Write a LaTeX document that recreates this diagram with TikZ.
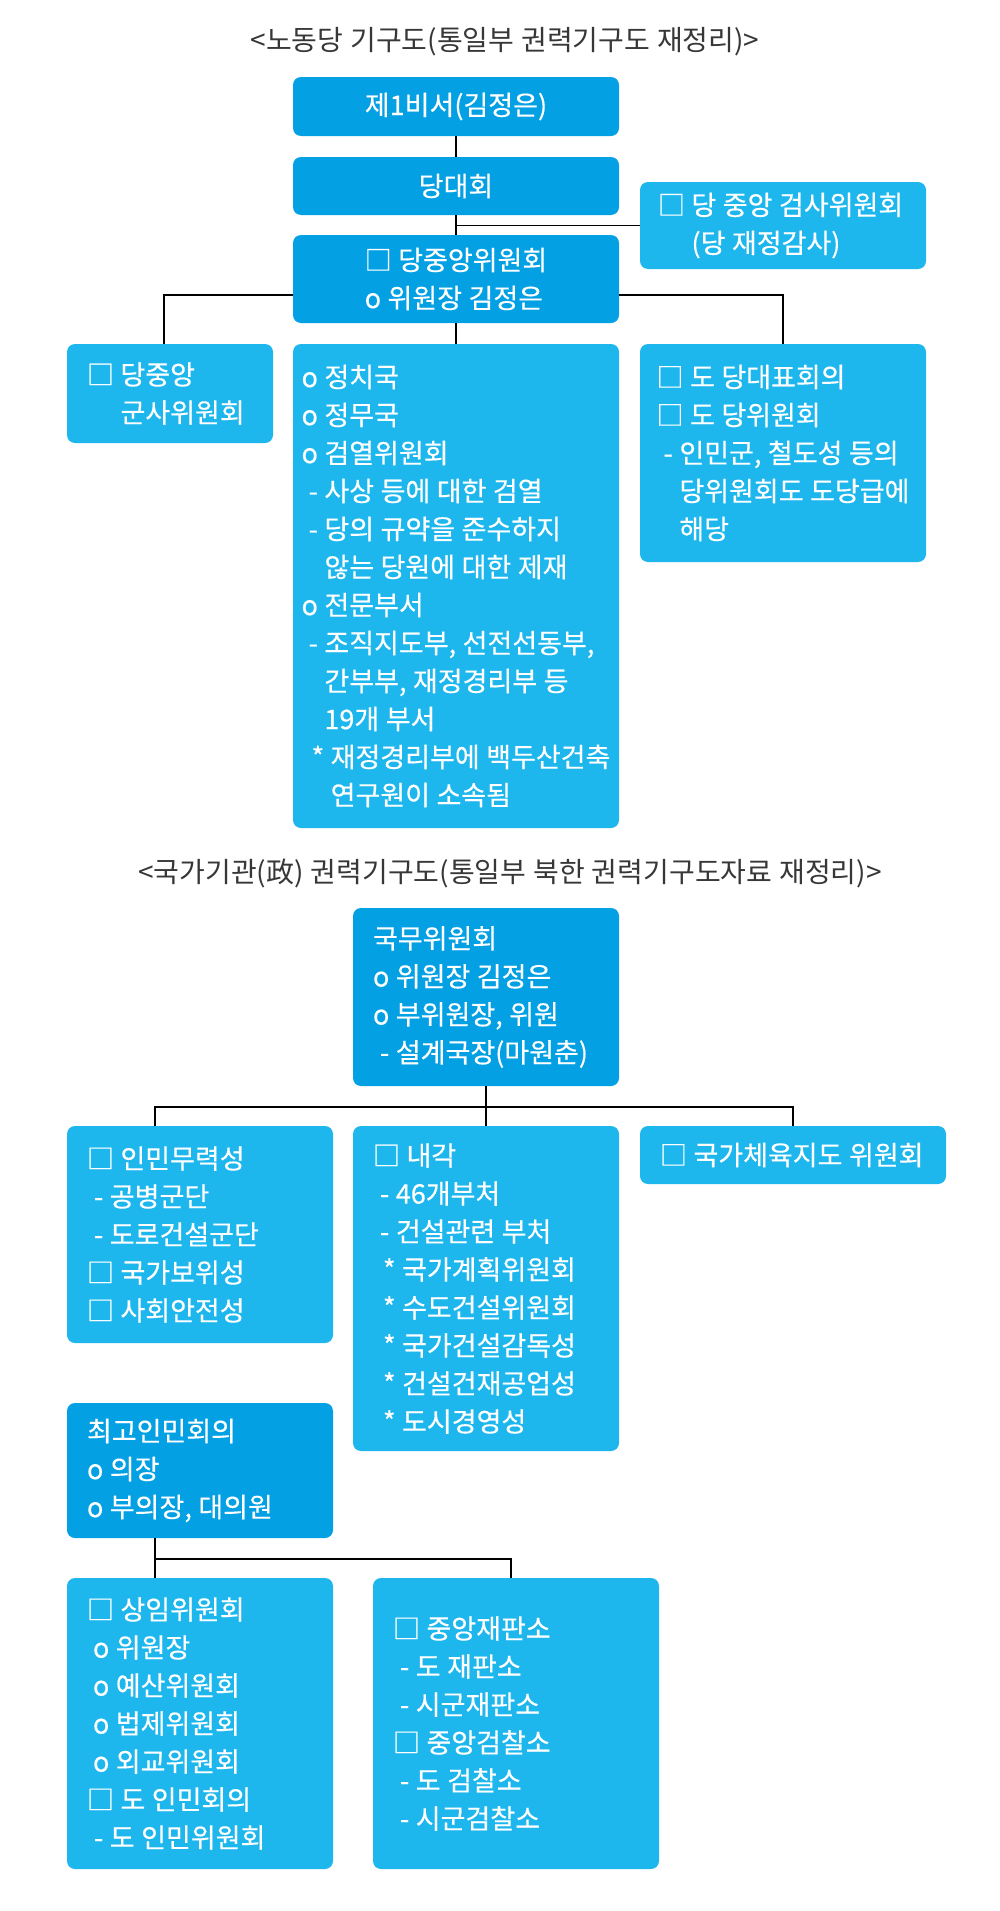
\documentclass[tikz,border=0pt]{standalone}
\usepackage{fontspec}
\usepackage{tikz}
\usetikzlibrary{positioning}
\setmainfont{Noto Sans CJK KR}
\newfontfamily\boxfont[FakeBold=0.4]{Noto Sans CJK KR}
\usepackage{xcolor}
\definecolor{kpdark}{RGB}{3,160,228}
\definecolor{kplight}{RGB}{30,183,237}
\definecolor{kpgray}{RGB}{55,55,55}
\tikzstyle{darkbox} = [fill=kpdark, rounded corners=8pt, text=white, font=\boxfont\fontsize{27}{38}\selectfont, inner xsep=20pt, inner ysep=0pt, outer sep=0pt, anchor=north west, execute at begin node={\spaceskip=6.5pt\relax\rightskip=0pt plus 1fil minus 80pt\relax}]
\tikzstyle{lightbox} = [darkbox, fill=kplight]
\tikzstyle{link} = [line width=1.5pt, color=black]
\tikzstyle{heading} = [font=\fontsize{28}{32}\selectfont, text=kpgray, execute at begin node={\spaceskip=7pt\relax}]
\newcommand{\dashln}{\hspace*{7pt}- }
\newcommand{\dashcont}{\hspace*{7pt}\phantom{- }}
\newcommand{\starln}{\hspace*{10pt}* }
\newcommand{\starcont}{\hspace*{10pt}\phantom{* }}
\newcommand{\boxcont}{\phantom{□ }}

\begin{document}
\begin{tikzpicture}[x=1pt,y=-1pt]
\useasboundingbox (0,0) rectangle (1000,1911);

% Party
\node[heading] (title1) at (505,42) {<노동당 기구도(통일부 권력기구도 재정리)>};
\node[darkbox, minimum width=326pt, minimum height=59pt, align=center] (sec) at (293,77) {제1비서(김정은)};
\node[darkbox, minimum width=326pt, minimum height=58pt, align=center] (cong) at (293,157) {당대회};
\node[lightbox, minimum width=286pt, minimum height=87pt, text width=250pt, inner xsep=18pt, align=left] (audit) at (640,182) {□ 당 중앙 검사위원회\\\boxcont(당 재정감사)};
\node[darkbox, minimum width=326pt, minimum height=88pt, align=left] (cc) at (293,235) {□ 당중앙위원회\\o 위원장 김정은};
\node[lightbox, minimum width=206pt, minimum height=99pt, text width=166pt, align=left] (mil) at (67,344) {□ 당중앙\\\boxcont 군사위원회};
\node[lightbox, minimum width=326pt, minimum height=484pt, inner xsep=4pt, align=left] (dept) at (293,344) {o 정치국\\o 정무국\\o 검열위원회\\\dashln 사상 등에 대한 검열\\\dashln 당의 규약을 준수하지\\\dashcont 않는 당원에 대한 제재\\o 전문부서\\\dashln 조직지도부, 선전선동부,\\\dashcont 간부부, 재정경리부 등\\\dashcont 19개 부서\\\starln 재정경리부에 백두산건축\\\starcont 연구원이 소속됨};
\node[lightbox, minimum width=286pt, minimum height=218pt, inner xsep=8pt, align=left] (prov) at (640,344) {□ 도 당대표회의\\□ 도 당위원회\\\dashln 인민군, 철도성 등의\\\dashcont 당위원회도 도당급에\\\dashcont 해당};

\draw[link] (sec) -- (cong);
\draw[link] (cong) -- (cc);
\draw[link] (cong.south |- audit.west) -- (audit.west);
\draw[link] ([yshift=-16pt]cc.west) -| ([xshift=-6pt]mil.north);
\draw[link] ([yshift=-16pt]cc.east) -| (prov.north);
\draw[link] (cc) -- (dept);

% State
\node[heading] (title2) at (510,873) {<국가기관(政) 권력기구도(통일부 북한 권력기구도자료 재정리)>};
\node[darkbox, minimum width=266pt, minimum height=178pt, text width=226pt, align=left] (state) at (353,908) {국무위원회\\o 위원장 김정은\\o 부위원장, 위원\\\dashln 설계국장(마원춘)};
\node[lightbox, minimum width=266pt, minimum height=217pt, text width=226pt, align=left] (army) at (67,1126) {□ 인민무력성\\\dashln 공병군단\\\dashln 도로건설군단\\□ 국가보위성\\□ 사회안전성};
\node[lightbox, minimum width=266pt, minimum height=325pt, text width=226pt, align=left] (cab) at (353,1126) {□ 내각\\\dashln 46개부처\\\dashln 건설관련 부처\\\starln 국가계획위원회\\\starln 수도건설위원회\\\starln 국가건설감독성\\\starln 건설건재공업성\\\starln 도시경영성};
\node[lightbox, minimum width=306pt, minimum height=58pt, text width=266pt, align=left] (sport) at (640,1126) {□ 국가체육지도 위원회};
\node[darkbox, minimum width=266pt, minimum height=135pt, text width=226pt, align=left] (spa) at (67,1403) {최고인민회의\\o 의장\\o 부의장, 대의원};
\node[lightbox, minimum width=266pt, minimum height=291pt, text width=226pt, align=left] (standing) at (67,1578) {□ 상임위원회\\\hspace*{6pt}o 위원장\\\hspace*{6pt}o 예산위원회\\\hspace*{6pt}o 법제위원회\\\hspace*{6pt}o 외교위원회\\□ 도 인민회의\\\dashln 도 인민위원회};
\node[lightbox, minimum width=286pt, minimum height=291pt, text width=246pt, align=left] (court) at (373,1578) {□ 중앙재판소\\\dashln 도 재판소\\\dashln 시군재판소\\□ 중앙검찰소\\\dashln 도 검찰소\\\dashln 시군검찰소};

\coordinate (statebus) at (0,1107);
\coordinate (armyleg) at ([xshift=-45pt]army.north);
\draw[link] (state) -- (cab);
\draw[link] (armyleg) |- (sport.north |- statebus) -- (sport.north);

\coordinate (spabus) at (0,1559);
\coordinate (spaleg) at ([xshift=-45pt]spa.south);
\draw[link] (spaleg) -- (spaleg |- standing.north);
\draw[link] (spaleg |- spabus) -| ([xshift=-5pt]court.north);
\end{tikzpicture}
\end{document}
